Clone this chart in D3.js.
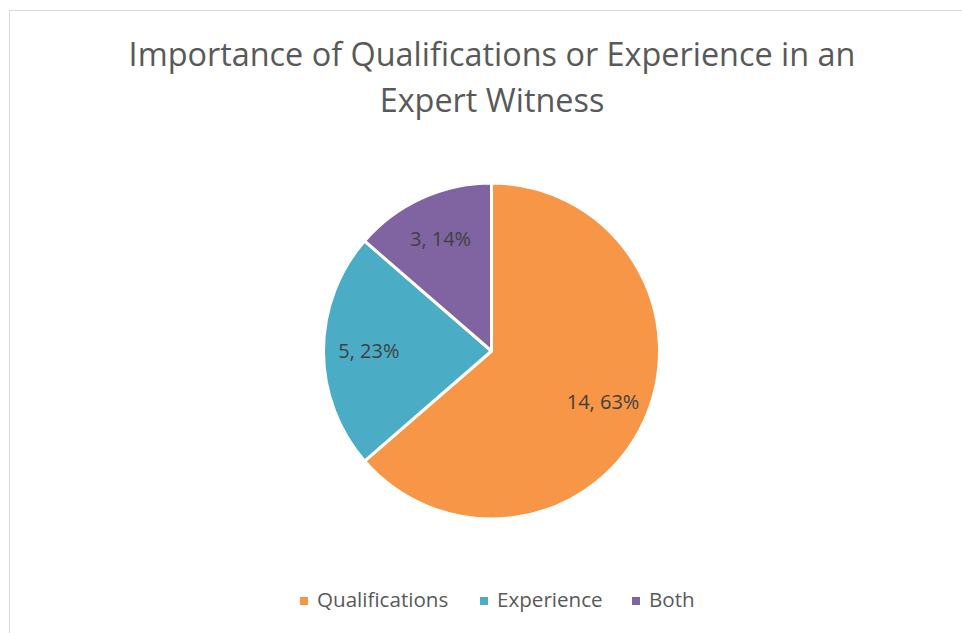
<!DOCTYPE html>
<html>
<head>
<meta charset="utf-8">
<script src="https://cdn.jsdelivr.net/npm/d3@7"></script>
<style>
  html, body { margin: 0; padding: 0; background: #fff; }
  svg { display: block; }
</style>
</head>
<body>
<svg id="chart" width="962" height="633"></svg>
<script>
// dati del grafico
var categories = ["Qualifications", "Experience", "Both"];
var counts = [14, 5, 3];
var percents = ["63%", "23%", "14%"];
var colors = ["#F79646", "#4BACC6", "#8064A2"];
var titleLines = ["Importance of Qualifications or Experience in an", "Expert Witness"];

var svg = d3.select("#chart");
var font = "'Open Sans', sans-serif";

// bordo del grafico
svg.append("rect")
    .attr("x", 9.5).attr("y", 10.5)
    .attr("width", 970).attr("height", 640)
    .attr("fill", "#fff")
    .attr("stroke", "#d9d9d9")
    .attr("stroke-width", 1);

// titolo
var title = svg.append("text")
    .attr("text-anchor", "middle")
    .attr("fill", "#595959")
    .style("font-family", font)
    .style("font-size", "32.4px");
titleLines.forEach(function(t, i) {
    title.append("tspan")
        .attr("x", 492)
        .attr("y", 66 + i * 46)
        .text(t);
});

var data = categories.map(function(c, i) {
    return {name: c, value: counts[i], pct: percents[i], color: colors[i]};
});

var cx = 491.5, cy = 351, r = 168;
var pie = d3.pie().sort(null).value(function(d) { return d.value; });
var arc = d3.arc().innerRadius(0).outerRadius(r);
var labelArc = d3.arc().innerRadius(r * 0.73).outerRadius(r * 0.73);

var g = svg.append("g").attr("transform", "translate(" + cx + "," + cy + ")");

g.selectAll("path")
    .data(pie(data))
    .enter()
    .append("path")
    .attr("d", arc)
    .attr("fill", function(d) { return d.data.color; })
    .attr("stroke", "#fff")
    .attr("stroke-width", 3)
    .attr("stroke-linejoin", "round");

g.selectAll("text.lbl")
    .data(pie(data))
    .enter()
    .append("text")
    .attr("class", "lbl")
    .attr("transform", function(d) { return "translate(" + labelArc.centroid(d) + ")"; })
    .attr("text-anchor", "middle")
    .attr("dy", "0.35em")
    .attr("fill", "#404040")
    .style("font-family", font)
    .style("font-size", "20px")
    .text(function(d) { return d.data.value + ", " + d.data.pct; });

// legenda
var legendX = [300, 480, 632];
var leg = svg.append("g");
data.forEach(function(d, i) {
    leg.append("rect")
        .attr("x", legendX[i]).attr("y", 597)
        .attr("width", 8).attr("height", 8)
        .attr("fill", d.color);
    leg.append("text")
        .attr("x", legendX[i] + 17).attr("y", 600)
        .attr("dy", "0.35em")
        .attr("fill", "#595959")
        .style("font-family", font)
        .style("font-size", "20.6px")
        .text(d.name);
});
</script>
</body>
</html>
